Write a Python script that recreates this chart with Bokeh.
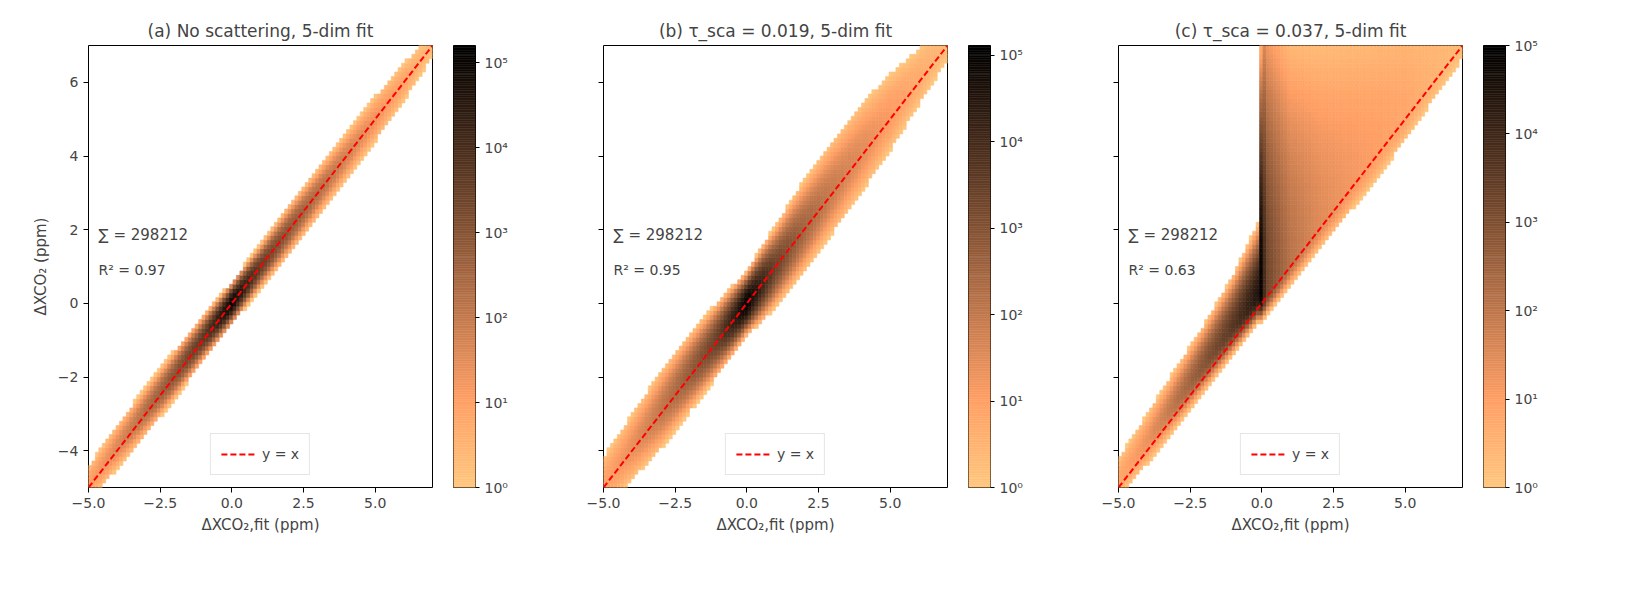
import numpy as np
from bokeh.plotting import figure
from bokeh.layouts import row
from bokeh.models import ColumnDataSource, LogColorMapper, FixedTicker, Legend, LegendItem, Label
from bokeh.embed import file_html
from bokeh.resources import INLINE

# ---- data ----
titles = ["(a) No scattering, 5-dim fit", "(b) τ_sca = 0.019, 5-dim fit", "(c) τ_sca = 0.037, 5-dim fit"]
r2_labels = ["R² = 0.97", "R² = 0.95", "R² = 0.63"]
total_label = "∑ = 298212"
cmax = [1.6e5, 1.3e5, 1.0e5]

knots_a = [-5, -4, -3, -2, -1, 0, 1, 2, 3, 4, 5, 6, 7]
off_a = [0.1, 0.1, 0.08, 0.05, 0.05, 0.0, 0.0, 0.0, 0.0, 0.0, 0.0, 0.0, 0.0]
logpk_a = [1.0, 1.6, 2.3, 3.0, 3.7, 5.1, 3.6, 2.9, 2.3, 1.8, 1.3, 0.9, 0.3]
siglo_a = [0.22, 0.22, 0.2, 0.18, 0.15, 0.12, 0.15, 0.18, 0.2, 0.22, 0.25, 0.25, 0.25]
sighi_a = siglo_a

knots_b = [-5, -4, -3, -2, -1, 0, 1, 2, 3, 4, 5, 6, 7]
off_b = [0.1, 0.1, 0.1, 0.1, 0.05, 0.0, 0.0, 0.05, 0.1, 0.1, 0.1, 0.1, 0.1]
logpk_b = [0.9, 1.4, 2.0, 2.7, 3.5, 5.1, 3.4, 2.5, 1.9, 1.5, 1.1, 0.7, 0.3]
siglo_b = [0.35, 0.35, 0.35, 0.3, 0.25, 0.18, 0.28, 0.35, 0.4, 0.42, 0.42, 0.4, 0.4]
sighi_b = [0.35, 0.35, 0.35, 0.3, 0.25, 0.18, 0.28, 0.38, 0.45, 0.5, 0.5, 0.45, 0.45]

knots_c = [-5, -4, -3, -2, -1, -0.1, 0.0, 0.15, 1, 2, 3, 4, 5, 6, 7]
off_c = [0.2, 0.25, 0.3, 0.35, 0.35, 0.3, 0.2, 0.1, 0.05, 0.0, 0.0, 0.0, 0.0, 0.0, 0.0]
logpk_c = [0.8, 1.3, 2.1, 2.9, 3.6, 4.5, 5.0, 3.3, 2.1, 1.5, 1.2, 1.0, 0.8, 0.5, 0.3]
siglo_c = [0.25, 0.25, 0.22, 0.2, 0.18, 0.15, 0.15, 0.15, 0.18, 0.2, 0.25, 0.3, 0.3, 0.3, 0.3]
sighi_c = [0.3, 0.3, 0.3, 0.3, 0.35, 0.45, 1.8, 2.2, 2.1, 2.1, 2.0, 1.8, 1.6, 1.4, 1.2]

panels = [
    (knots_a, off_a, logpk_a, siglo_a, sighi_a),
    (knots_b, off_b, logpk_b, siglo_b, sighi_b),
    (knots_c, off_c, logpk_c, siglo_c, sighi_c),
]

x_lim = [-5, 7]
bin_w = 0.12
x_ticks = [-5, -2.5, 0, 2.5, 5]
y_ticks = [-4, -2, 0, 2, 4, 6]
cb_ticks = [1, 10, 100, 1000, 10000, 100000]
cb_labels = {1: "10⁰", 10: "10¹", 100: "10²", 1000: "10³", 10000: "10⁴", 100000: "10⁵"}

# copper_r palette (low -> light orange, high -> black)
pal = []
for i in range(256):
    t = 1 - i / 255
    r = min(1.0, 1.25 * t); g = 0.7812 * t; b = 0.4975 * t
    pal.append("#%02x%02x%02x" % (int(r * 255), int(g * 255), int(b * 255)))

def hist(knots, off, logpk, slo, shi):
    centers = np.arange(x_lim[0] + bin_w / 2, x_lim[1], bin_w)
    X, Y, C = [], [], []
    for xc in centers:
        o = np.interp(xc, knots, off); lp = np.interp(xc, knots, logpk)
        sl = np.interp(xc, knots, slo); sh = np.interp(xc, knots, shi)
        for yc in centers:
            d = yc - (xc + o)
            s = sh if d > 0 else sl
            c = 10 ** lp * np.exp(-0.5 * (d / s) ** 2)
            if c >= 1:
                X.append(xc); Y.append(yc); C.append(c)
    return dict(x=X, y=Y, c=C)

FONT = "DejaVu Sans"
figs = []
for k, pp in enumerate(panels):
    p = figure(frame_width=344, frame_height=442, x_range=(-5, 7), y_range=(-5, 7),
               output_backend="svg", toolbar_location=None, title=titles[k],
               min_border_left=88, min_border_right=21, min_border_top=45, min_border_bottom=60)
    p.title.align = "center"; p.title.text_font = FONT
    p.title.text_font_size = "17px"; p.title.text_font_style = "normal"
    mapper = LogColorMapper(palette=pal, low=1, high=cmax[k])
    src = ColumnDataSource(hist(*pp))
    p.rect("x", "y", width=bin_w, height=bin_w, source=src,
           fill_color={"field": "c", "transform": mapper},
           line_color={"field": "c", "transform": mapper}, line_width=0.6)
    ln = p.line(x_lim, x_lim, line_color="red", line_dash="6 3", line_width=2)
    leg = Legend(items=[LegendItem(label="y = x", renderers=[ln])], location="bottom_center",
                 label_text_font=FONT, label_text_font_size="14px",
                 border_line_color="#cccccc", glyph_width=36, margin=12)
    p.add_layout(leg)
    p.add_layout(Label(x=-4.65, y=1.6, text=total_label, text_font=FONT, text_font_size="15px"))
    p.add_layout(Label(x=-4.65, y=0.7, text=r2_labels[k], text_font=FONT, text_font_size="14px"))
    p.grid.visible = False
    p.xaxis.ticker = FixedTicker(ticks=x_ticks)
    p.yaxis.ticker = FixedTicker(ticks=y_ticks)
    p.xaxis.major_label_overrides = {-5: "−5.0", -2.5: "−2.5", 0: "0.0", 2.5: "2.5", 5: "5.0"}
    p.yaxis.major_label_overrides = {-4: "−4", -2: "−2"}
    for ax in (p.xaxis, p.yaxis):
        ax.minor_tick_line_color = None
        ax.major_label_text_font = FONT; ax.major_label_text_font_size = "14px"
        ax.axis_label_text_font = FONT; ax.axis_label_text_font_size = "15px"
        ax.axis_label_text_font_style = "normal"
        ax.major_tick_out = 5; ax.major_tick_in = 0
        ax.axis_line_color = None
    p.xaxis.axis_label = "ΔXCO₂,fit (ppm)"
    if k == 0:
        p.yaxis.axis_label = "ΔXCO₂ (ppm)"
    else:
        p.yaxis.major_label_text_color = None
    p.outline_line_color = "black"; p.outline_line_alpha = 1

    # colour bar as its own small figure with a log axis
    cb = figure(frame_width=22, frame_height=442, x_range=(0, 1), y_range=(1, cmax[k]),
                y_axis_type="log", output_backend="svg", toolbar_location=None,
                min_border_left=0, min_border_right=40, min_border_top=45, min_border_bottom=60,
                x_axis_location=None, y_axis_location="right")
    edges = np.logspace(0, np.log10(cmax[k]), 257)
    cb.quad(left=0, right=1, bottom=edges[:-1], top=edges[1:], fill_color=pal, line_color=pal, line_width=0.5)
    cb.grid.visible = False
    cb.yaxis.ticker = FixedTicker(ticks=cb_ticks)
    cb.yaxis.major_label_overrides = cb_labels
    cb.yaxis.major_label_text_font = FONT; cb.yaxis.major_label_text_font_size = "14px"
    cb.yaxis.minor_tick_line_color = None
    cb.yaxis.major_tick_out = 4; cb.yaxis.major_tick_in = 0
    cb.yaxis.axis_line_color = None
    cb.outline_line_color = "black"
    figs.append(p); figs.append(cb)

layout = row(*figs, spacing=0)
open("out.html", "w").write(file_html(layout, INLINE))
